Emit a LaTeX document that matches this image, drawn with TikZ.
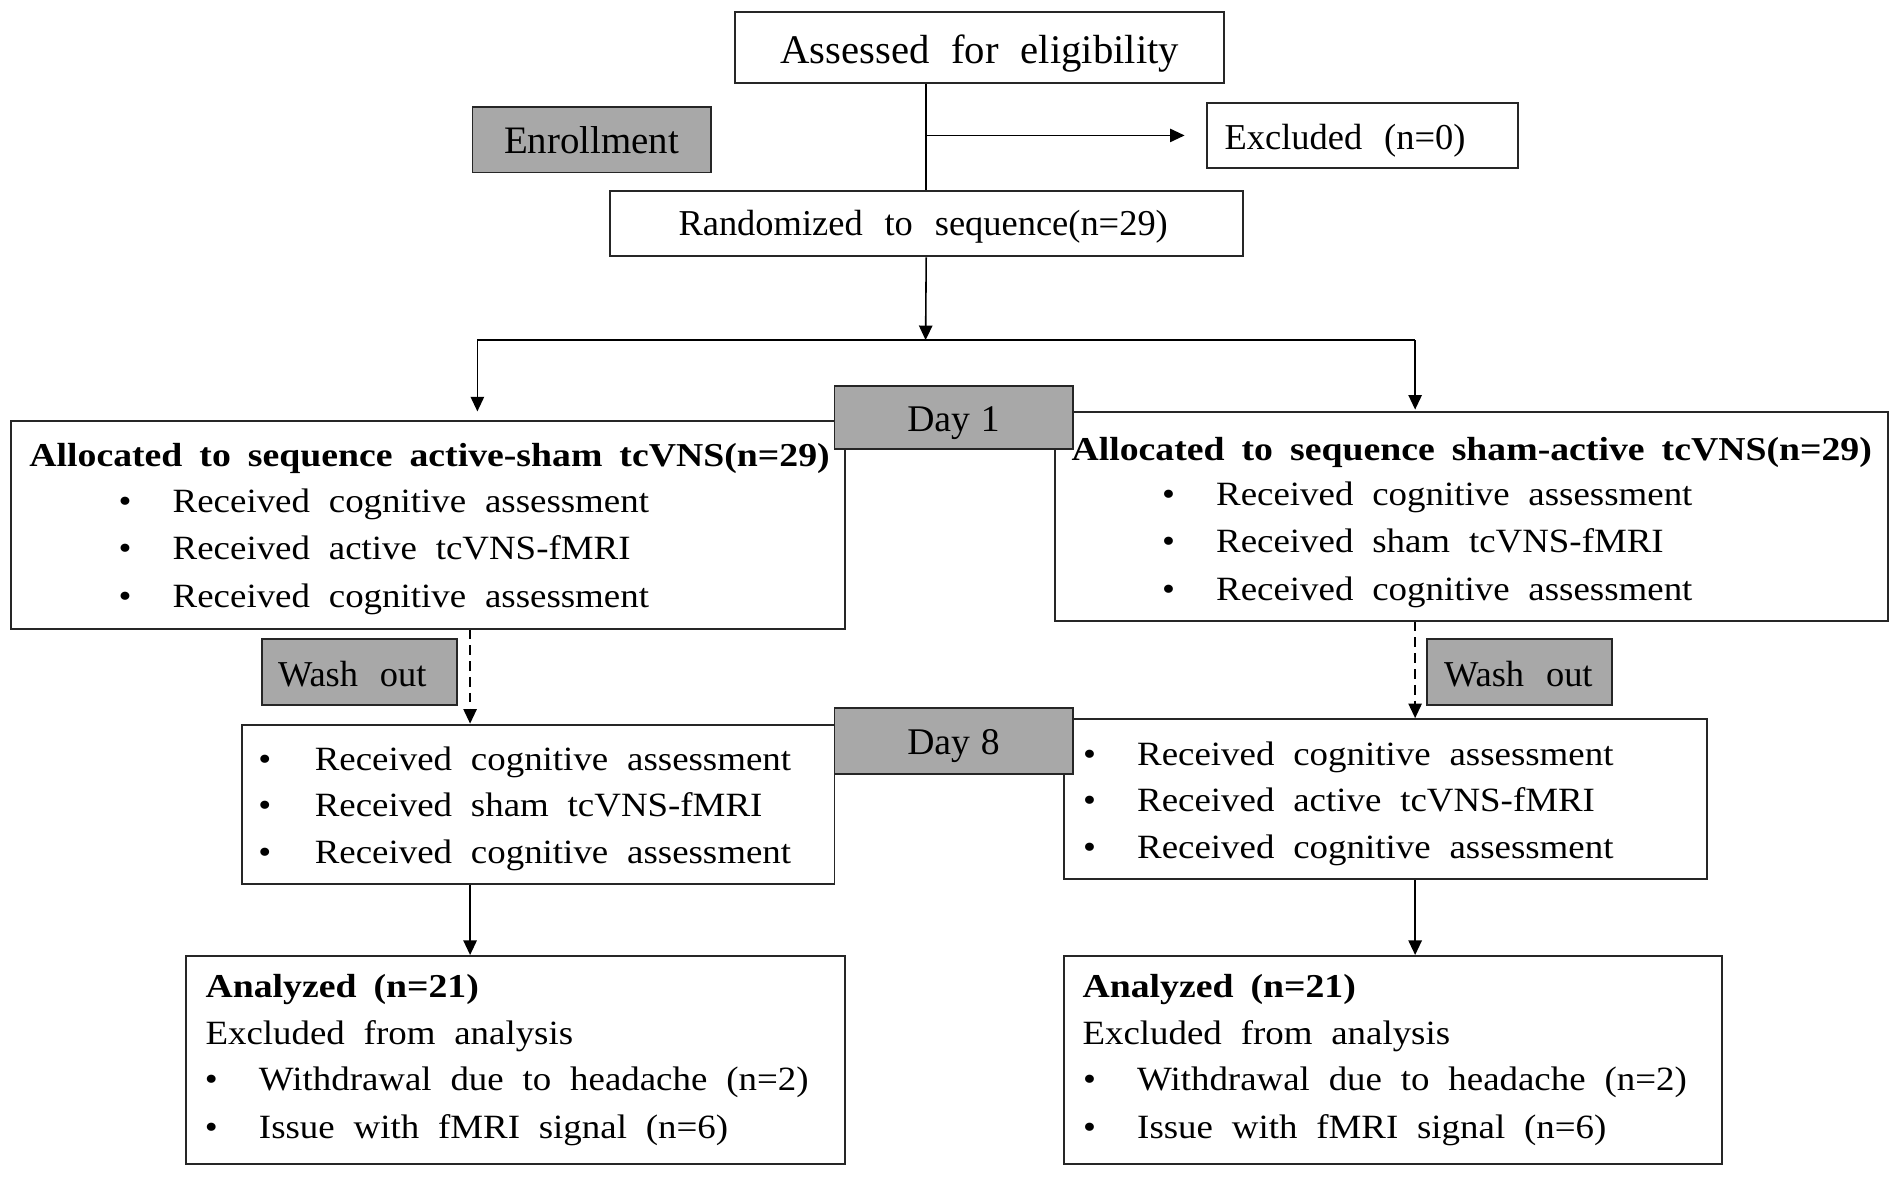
\documentclass[tikz,border=0pt]{standalone}
\usepackage{fontspec}
\setmainfont{Liberation Serif}
\newfontfamily\listfont{Liberation Serif}[FakeStretch=1.085]
\newfontfamily\titlefont{Liberation Serif}[FakeStretch=1.13]
\usetikzlibrary{arrows.meta}
\definecolor{boxgray}{gray}{0.66}
\tikzset{
  box/.style={draw=black!85, line width=1.6pt, fill=white, inner sep=0pt},
  graybox/.style={box, fill=boxgray},
  bigtxt/.style={inner sep=0pt, anchor=base, font={\fontsize{30}{36}\selectfont\spaceskip=18pt\relax}},
  lefttxt/.style={inner sep=0pt, anchor=base west, font={\fontsize{30}{36}\selectfont\spaceskip=18pt\relax}},
  daytxt/.style={inner sep=0pt, anchor=base, font={\fontsize{31}{36}\selectfont\spaceskip=9pt\relax}},
  lst/.style={inner sep=0pt, anchor=base west, font={\listfont\fontsize{28}{33}\selectfont\spaceskip=15.5pt\relax}},
  ttl/.style={inner sep=0pt, anchor=base west, font={\titlefont\bfseries\fontsize{27.5}{33}\selectfont\spaceskip=14pt\relax}},
  bul/.style={inner sep=0pt, anchor=base, font={\listfont\fontsize{28}{33}\selectfont}},
  conn/.style={draw=black, line width=1.3pt},
  arrow/.style={conn, -{Triangle[length=12pt,width=11pt]}},
  darrow/.style={arrow, dash pattern=on 8pt off 5pt}
}
\begin{document}
\begin{tikzpicture}[x=1pt,y=-1pt]
\useasboundingbox (0,0) rectangle (1565,969);
\fill[white] (0,0) rectangle (1565,969);

% top boxes
\node[box, minimum width=403pt, minimum height=58pt] (assess) at (806.5,39) {};
\node[inner sep=0pt, anchor=base, font={\fontsize{33.5}{40}\selectfont\spaceskip=18pt\relax}] (assessT) at (806.5,52) {Assessed for eligibility};
\node[graybox, minimum width=196pt, minimum height=54pt] (enroll) at (487,115) {};
\node[inner sep=0pt, anchor=base, font={\fontsize{32}{38}\selectfont}] (enrollT) at (487,126) {Enrollment};
\node[box, minimum width=256pt, minimum height=53pt] (excl) at (1122,111.5) {};
\node[lefttxt] (exclT) at (1008,123) {Excluded (n=0)};
\node[box, minimum width=521pt, minimum height=54pt] (rand) at (762.5,184) {};
\node[bigtxt] (randT) at (760,194) {Randomized to sequence(n=29)};

% allocation boxes
\node[box, minimum width=687pt, minimum height=171pt] (A1) at (352.5,432) {};
\node[box, minimum width=686pt, minimum height=172pt] (B1) at (1211.5,425) {};
\node[graybox, minimum width=196pt, minimum height=52pt] (day1) at (785,344) {};
\node[daytxt] (day1T) at (785,355) {Day 1};

\node[ttl] (A1t) at (24,384) {Allocated to sequence active-sham tcVNS(n=29)};
\node[bul] (A1b1) at (103,422) {•};
\node[lst] (A1l1) at (142,422) {Received cognitive assessment};
\node[bul] (A1b2) at (103,461) {•};
\node[lst] (A1l2) at (142,461) {Received active tcVNS-fMRI};
\node[bul] (A1b3) at (103,500) {•};
\node[lst] (A1l3) at (142,500) {Received cognitive assessment};

\node[ttl] (B1t) at (882,379) {Allocated to sequence sham-active tcVNS(n=29)};
\node[bul] (B1b1) at (962,416) {•};
\node[lst] (B1l1) at (1001,416) {Received cognitive assessment};
\node[bul] (B1b2) at (962,455) {•};
\node[lst] (B1l2) at (1001,455) {Received sham tcVNS-fMRI};
\node[bul] (B1b3) at (962,494) {•};
\node[lst] (B1l3) at (1001,494) {Received cognitive assessment};

% wash out
\node[graybox, minimum width=160pt, minimum height=54pt] (washL) at (296,553) {};
\node[bigtxt] (washLT) at (290,565) {Wash out};
\node[graybox, minimum width=152pt, minimum height=54pt] (washR) at (1251,553) {};
\node[bigtxt] (washRT) at (1250,565) {Wash out};

% day 8 boxes
\node[box, minimum width=488pt, minimum height=131pt] (A2) at (443,662) {};
\node[box, minimum width=529pt, minimum height=132pt] (B2) at (1140.5,658) {};
\node[graybox, minimum width=196pt, minimum height=54pt] (day8) at (785,610) {};
\node[daytxt] (day8T) at (785,621) {Day 8};

\node[bul] (A2b1) at (218,634) {•};
\node[lst] (A2l1) at (259,634) {Received cognitive assessment};
\node[bul] (A2b2) at (218,672) {•};
\node[lst] (A2l2) at (259,672) {Received sham tcVNS-fMRI};
\node[bul] (A2b3) at (218,711) {•};
\node[lst] (A2l3) at (259,711) {Received cognitive assessment};

\node[bul] (B2b1) at (897,630) {•};
\node[lst] (B2l1) at (936,630) {Received cognitive assessment};
\node[bul] (B2b2) at (897,668) {•};
\node[lst] (B2l2) at (936,668) {Received active tcVNS-fMRI};
\node[bul] (B2b3) at (897,707) {•};
\node[lst] (B2l3) at (936,707) {Received cognitive assessment};

% analyzed boxes
\node[box, minimum width=543pt, minimum height=171pt] (A3) at (424.5,872.5) {};
\node[box, minimum width=542pt, minimum height=171pt] (B3) at (1147,872.5) {};

\node[ttl] (A3t) at (169,821) {Analyzed (n=21)};
\node[lst] (A3e) at (169,860) {Excluded from analysis};
\node[bul] (A3b1) at (174,898) {•};
\node[lst] (A3l1) at (213,898) {Withdrawal due to headache (n=2)};
\node[bul] (A3b2) at (174,937) {•};
\node[lst] (A3l2) at (213,937) {Issue with fMRI signal (n=6)};

\node[ttl] (B3t) at (891,821) {Analyzed (n=21)};
\node[lst] (B3e) at (891,860) {Excluded from analysis};
\node[bul] (B3b1) at (897,898) {•};
\node[lst] (B3l1) at (936,898) {Withdrawal due to headache (n=2)};
\node[bul] (B3b2) at (897,937) {•};
\node[lst] (B3l2) at (936,937) {Issue with fMRI signal (n=6)};

% connectors
\coordinate (sL) at (393,280);
\coordinate (sR) at (1165,280);
\coordinate (sC) at (762,280);
\coordinate (wL) at (387,0);
\coordinate (wR) at (1165,0);
\draw[conn] (rand.north |- assess.south) -- (rand.north);
\draw[arrow, shorten >=18pt] (rand.north |- excl.west) -- (excl.west);
\draw[arrow] (rand.south) -- (sC);
\draw[conn] (sL) -- (sR);
\draw[arrow, shorten >=7pt] (sL) -- (sL |- A1.north);
\draw[arrow, shorten >=1pt] (sR) -- (sR |- B1.north);
\draw[darrow] (wL |- A1.south) -- (wL |- A2.north);
\draw[darrow] (wR |- B1.south) -- (wR |- B2.north);
\draw[arrow] (wL |- A2.south) -- (wL |- A3.north);
\draw[arrow] (wR |- B2.south) -- (wR |- B3.north);
\end{tikzpicture}
\end{document}
